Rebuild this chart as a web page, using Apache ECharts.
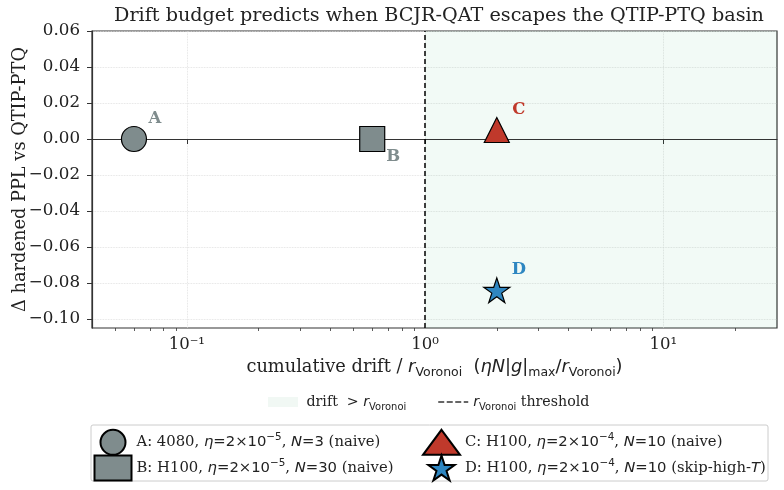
<!DOCTYPE html>
<html>
<head>
<meta charset="utf-8">
<script src="https://cdn.jsdelivr.net/npm/echarts@6/dist/echarts.min.js"></script>
<style>
  html, body { margin: 0; padding: 0; background: #fff; }
  #chart { width: 784px; height: 490px; }
</style>
</head>
<body>
<div id="chart"></div>
<script>
// points A-D
var pointNames = ['A', 'B', 'C', 'D'];
var drift = [0.06, 0.6, 2.0, 2.0];
var deltaPPL = [0.0, 0.0, 0.005, -0.084];
var gpus = ['4080', 'H100', 'H100', 'H100'];
var etaExp = ['−5', '−5', '−4', '−4'];
var steps = ['3', '30', '10', '10'];
var variant = ['naive', 'naive', 'naive', 'skip-high-T'];

// axes
var xRange = [0.04, 30];
var yRange = [-0.105, 0.06];
var xTicks = [0.1, 1, 10];
var xTickLabels = ['10⁻¹', '10⁰', '10¹'];
var yTicks = [-0.10, -0.08, -0.06, -0.04, -0.02, 0.00, 0.02, 0.04, 0.06];
var threshold = 1.0;

var colors = ['#7f8c8d', '#7f8c8d', '#c0392b', '#2e86c1'];
var labelOffsets = [[21, -20], [21, 18], [22, -20], [22, -20]];

var xMinor = [];
for (var k = -2; k <= 1; k++) {
  for (var m = 2; m <= 9; m++) {
    var v = m * Math.pow(10, k);
    if (v > xRange[0] && v < xRange[1]) xMinor.push(v);
  }
}

function starPath() {
  var d = '';
  for (var i = 0; i < 10; i++) {
    var a = (-90 + i * 36) * Math.PI / 180;
    var r = i % 2 ? 0.382 : 1;
    d += (i ? 'L' : 'M') + (r * Math.cos(a)).toFixed(3) + ' ' + (r * Math.sin(a)).toFixed(3) + ' ';
  }
  return 'path://' + d + 'Z';
}
var symbols = ['circle', 'rect', 'triangle', starPath()];
// legend icon for the dashed threshold line
var dashIcon = 'path://M0 0h6v1.5H0Z M8.5 0h6v1.5H8.5Z M17 0h6v1.5H17Z M25.5 0h4.5v1.5H25.5Z';

var serif = 'DejaVu Serif';
var sans = 'DejaVu Sans';

function makeRich(fs) {
  return {
    s: { fontFamily: serif, fontSize: fs, color: '#222', lineHeight: 20 },
    m: { fontFamily: sans, fontSize: fs, color: '#222', lineHeight: 20 },
    i: { fontFamily: sans, fontSize: fs, fontStyle: 'italic', color: '#222', lineHeight: 20 },
    sup: { fontFamily: sans, fontSize: fs * 0.7, color: '#222', lineHeight: 10, verticalAlign: 'top' },
    sub: { fontFamily: sans, fontSize: fs * 0.7, color: '#222', lineHeight: 12, verticalAlign: 'bottom' },
    sp: { width: 3.5, lineHeight: 20 }
  };
}

function legendText(i) {
  var v = variant[i] === 'skip-high-T' ? '{s| (skip-high-}{i|T}{s|)}' : '{s| (' + variant[i] + ')}';
  return '{s|' + pointNames[i] + ': ' + gpus[i] + ', }{i|η}{m|=2×10}{sup|' + etaExp[i] + '}{s|, }{i|N}{m|=' + steps[i] + '}' + v;
}

var legendMap = {
  shade: '{sp|}{s|drift }{m| > }{i|r}{sub|Voronoi}',
  threshold: '{i|r}{sub|Voronoi}{s| threshold}'
};
pointNames.forEach(function (n, i) { legendMap[n] = legendText(i); });

var chart = echarts.init(document.getElementById('chart'), null, { renderer: 'canvas' });

var series = [
  {
    name: 'shade',
    type: 'scatter',
    data: [],
    z: 1,
    itemStyle: { color: '#eef6f1' },
    markArea: {
      silent: true,
      itemStyle: { color: 'rgba(39,174,96,0.06)' },
      data: [[{ xAxis: threshold }, { xAxis: xRange[1] }]]
    },
    markLine: {
      silent: true,
      symbol: 'none',
      label: { show: false },
      lineStyle: { color: '#333', width: 1, type: 'solid' },
      data: [{ yAxis: 0 }]
    }
  },
  {
    name: 'threshold',
    type: 'scatter',
    data: [],
    z: 1,
    itemStyle: { color: '#000' },
    markLine: {
      silent: true,
      symbol: 'none',
      label: { show: false },
      lineStyle: { color: '#000', width: 1.5, type: [5, 3] },
      data: [{ xAxis: threshold }]
    }
  }
];

pointNames.forEach(function (n, i) {
  series.push({
    name: n,
    type: 'scatter',
    z: 5,
    symbol: symbols[i],
    symbolSize: i === 3 ? 26 : 25,
    symbolKeepAspect: true,
    itemStyle: { color: colors[i], borderColor: '#000', borderWidth: 1.2, opacity: 1 },
    label: {
      show: true,
      position: 'inside',
      offset: labelOffsets[i],
      formatter: '{b}',
      fontFamily: serif,
      fontWeight: 'bold',
      fontSize: 16.5,
      color: colors[i]
    },
    data: [{ name: n, value: [drift[i], deltaPPL[i]] }]
  });
});

var option = {
  animation: false,
  backgroundColor: '#fff',
  title: {
    text: 'Drift budget predicts when BCJR-QAT escapes the QTIP-PTQ basin',
    left: 434,
    textAlign: 'center',
    top: 2,
    textStyle: { fontFamily: serif, fontSize: 19.2, fontWeight: 'normal', color: '#222' }
  },
  grid: {
    left: 92, right: 7, top: 31, bottom: 162,
    outerBoundsMode: 'none',
    containLabel: false,
    show: true, borderColor: '#333', borderWidth: 1.2, backgroundColor: '#fff'
  },
  xAxis: [
    {
      type: 'log',
      logBase: 10,
      min: xRange[0],
      max: xRange[1],
      position: 'bottom',
      axisLine: { show: true, lineStyle: { color: '#333', width: 1.2 } },
      axisTick: { show: true, length: 5, customValues: xTicks, lineStyle: { color: '#333', width: 1 } },
      axisLabel: {
        customValues: xTicks,
        margin: 8,
        fontFamily: serif,
        fontSize: 16.5,
        color: '#222',
        formatter: function (v) {
          var idx = xTicks.findIndex(function (t) { return Math.abs(Math.log10(t) - Math.log10(v)) < 1e-6; });
          return idx >= 0 ? xTickLabels[idx] : '';
        }
      },
      splitLine: { show: true, lineStyle: { color: '#dcdcdc', type: 'dotted', width: 0.8 } },
      name: '{s|cumulative drift / }{i|r}{sub|Voronoi}{m|  (}{i|ηN}{m||}{i|g}{m||}{sub|max}{m|/}{i|r}{sub|Voronoi}{m|)}',
      nameLocation: 'middle',
      nameGap: 27,
      nameMoveOverlap: false,
      nameTextStyle: {
        rich: {
          s: { fontFamily: serif, fontSize: 17.8, color: '#222', lineHeight: 24 },
          m: { fontFamily: sans, fontSize: 17.8, color: '#222', lineHeight: 24 },
          i: { fontFamily: sans, fontSize: 17.8, fontStyle: 'italic', color: '#222', lineHeight: 24 },
          sub: { fontFamily: sans, fontSize: 12.5, color: '#222', lineHeight: 14, verticalAlign: 'bottom' }
        }
      }
    },
    {
      type: 'log',
      logBase: 10,
      min: xRange[0],
      max: xRange[1],
      position: 'bottom',
      axisLine: { show: false },
      axisTick: { show: true, length: 3, customValues: xMinor, lineStyle: { color: '#333', width: 0.8 } },
      axisLabel: { show: false },
      splitLine: { show: false }
    }
  ],
  yAxis: {
    type: 'value',
    min: yRange[0],
    max: yRange[1],
    splitNumber: 8,
    axisLine: { show: true, lineStyle: { color: '#333', width: 1.2 } },
    axisTick: { show: true, length: 5, customValues: yTicks, lineStyle: { color: '#333', width: 1 } },
    axisLabel: {
      customValues: yTicks,
      margin: 12,
      fontFamily: serif,
      fontSize: 16.7,
      color: '#222',
      formatter: function (v) { return v.toFixed(2).replace('-', '−'); }
    },
    splitLine: { show: true, lineStyle: { color: '#dcdcdc', type: 'dotted', width: 0.8 } },
    name: 'Δ hardened PPL vs QTIP-PTQ',
    nameLocation: 'middle',
    nameGap: 63,
    nameMoveOverlap: false,
    nameTextStyle: { fontFamily: serif, fontSize: 17.8, color: '#222' }
  },
  graphic: [{
    type: 'rect',
    z: 0,
    shape: { x: 91, y: 425, width: 677, height: 56, r: 2 },
    style: { fill: '#fff', stroke: '#cccccc', lineWidth: 1 }
  }],
  legend: [
    {
      left: 268,
      top: 395,
      padding: 0,
      itemWidth: 30,
      itemHeight: 10,
      itemGap: 32,
      data: [
        { name: 'shade', icon: 'rect', itemStyle: { color: '#eef6f1', borderWidth: 0 } },
        { name: 'threshold', icon: dashIcon, itemStyle: { color: '#000', borderWidth: 0 } }
      ],
      formatter: function (n) { return legendMap[n]; },
      textStyle: { rich: makeRich(14.2) }
    },
    {
      orient: 'vertical',
      left: 93.5,
      top: 428.8,
      height: 80,
      padding: 0,
      itemWidth: 37,
      itemHeight: 25,
      itemGap: -1.3,
      data: ['A', 'B'],
      formatter: function (n) { return legendMap[n]; },
      textStyle: { rich: makeRich(14.8) }
    },
    {
      orient: 'vertical',
      left: 422,
      top: 428.8,
      height: 80,
      padding: 0,
      itemWidth: 37,
      itemHeight: 25,
      itemGap: -1.3,
      data: ['C', 'D'],
      formatter: function (n) { return legendMap[n]; },
      textStyle: { rich: makeRich(14.8) }
    }
  ],
  series: series
};

chart.setOption(option);
</script>
</body>
</html>
